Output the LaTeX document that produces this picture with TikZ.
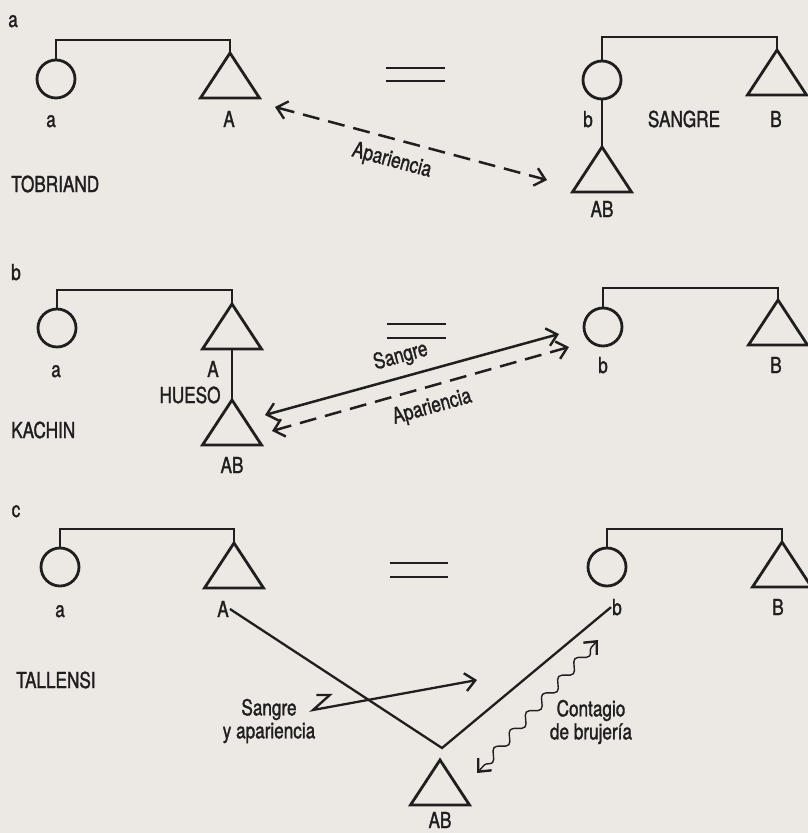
\documentclass[tikz,border=0pt]{standalone}
\usepackage{fontspec}
\setmainfont{TeX Gyre Heros}[FakeStretch=0.78, FakeBold=1.4]
\usepackage{xcolor}
\usepackage{tikz}
\usetikzlibrary{positioning,shapes.geometric,arrows.meta,decorations.pathmorphing}

\definecolor{paper}{RGB}{236,233,229}
\definecolor{ink}{RGB}{32,30,30}

\begin{document}
\begin{tikzpicture}[
            x=1pt, y=-1pt,
            font=\fontsize{22}{23}\selectfont,
            every node/.style={text=ink},
            >={Straight Barb[length=10pt,width=18pt,line width=2.4pt]},
            circ/.style={circle, draw=ink, line width=2.8pt, minimum size=38pt, inner sep=0pt, outer sep=0pt},
            tri/.style={isosceles triangle, isosceles triangle stretches, shape border rotate=90,
                draw=ink, line width=2.8pt, minimum width=59pt, minimum height=45pt,
                inner sep=0pt, outer sep=0pt, anchor=apex},
            lbl/.style={anchor=base, inner sep=1pt},
            kin/.style={draw=ink, line width=2.6pt},
            eqbar/.style={draw=ink, line width=2.8pt},
            rel/.style={draw=ink, line width=2.5pt, <->},
            auto
        ]
            \fill[paper] (0,0) rectangle (808,833);
            \useasboundingbox (0,0) rectangle (808,833);

            % a: Tobriand
            \node[lbl] (ha) at (13,27) {a};
            \node[circ] (ca1) at (56,79) {};
            \node[tri] (ta1) at (230,53) {};
            \node[lbl] (la1) at (51,127) {a};
            \node[lbl] (lA1) at (229,127) {A};
            \node[lbl, anchor=base west] (na) at (10,192) {TOBRIAND};
            \draw[kin] (ca1.north) -- ++(0,-20) -| (ta1.apex);
            \node[circ] (cb1) at (602,80) {};
            \node[tri] (tB1) at (777,50) {};
            \node[tri] (tAB1) at (602,147) {};
            \node[lbl] (lb1) at (588,127) {b};
            \node[lbl] (ls1) at (684,127) {SANGRE};
            \node[lbl] (lB1) at (776,127) {B};
            \node[lbl] (lAB1) at (602,217) {AB};
            \draw[kin] (cb1.north) -- ++(0,-24) -| (tB1.apex);
            \draw[kin] (cb1.south) -- (tAB1.apex);
            \draw[eqbar] (386,68) -- (445,68) (386,81) -- (445,81);
            \coordinate (p1a) at (275,107);
            \coordinate (p1b) at (547,180);
            \draw[rel, dashed, dash pattern=on 17pt off 9pt] (p1a) -- node[pos=0.45, sloped, below=7pt] (ap1) {Apariencia} (p1b);

            % b: Kachin
            \node[lbl] (hb) at (16,280) {b};
            \node[circ] (ca2) at (57,328) {};
            \node[tri] (ta2) at (232,304) {};
            \node[tri] (tAB2) at (232,400) {};
            \node[lbl] (la2) at (56,377) {a};
            \node[lbl] (lA2) at (213,377) {A};
            \node[lbl] (lh2) at (190,403) {HUESO};
            \node[lbl] (lAB2) at (232,473) {AB};
            \node[lbl, anchor=base west] (nb) at (10,438) {KACHIN};
            \draw[kin] (ca2.north) -- ++(0,-19) -| (ta2.apex);
            \draw[kin] (ta2.lower side) -- (tAB2.apex);
            \node[circ] (cb2) at (603,327) {};
            \node[tri] (tB2) at (778,300) {};
            \node[lbl] (lb2) at (603,373) {b};
            \node[lbl] (lB2) at (776,373) {B};
            \draw[kin] (cb2.north) -- ++(0,-20) -| (tB2.apex);
            \draw[eqbar] (387,324) -- (446,324) (387,338) -- (446,338);
            \coordinate (s2a) at (265,415);
            \coordinate (s2b) at (559,334);
            \coordinate (p2a) at (272,431);
            \coordinate (p2b) at (569,347);
            \draw[rel] (s2a) -- node[pos=0.48, sloped, above=5pt] (sg2) {Sangre} (s2b);
            \draw[rel, dashed, dash pattern=on 17pt off 9pt] (p2a) -- node[pos=0.52, sloped, below=6pt] (ap2) {Apariencia} (p2b);

            % c: Tallensi
            \node[lbl] (hc) at (16,517) {c};
            \node[circ] (ca3) at (60,567) {};
            \node[tri] (ta3) at (234,543) {};
            \node[lbl] (la3) at (60,617) {a};
            \node[lbl] (lA3) at (223,617) {A};
            \node[lbl, anchor=base west] (nc) at (15,688) {TALLENSI};
            \draw[kin] (ca3.north) -- ++(0,-19) -| (ta3.apex);
            \node[circ] (cb3) at (607,567) {};
            \node[tri] (tB3) at (782,542) {};
            \node[lbl] (lb3) at (617,615) {b};
            \node[lbl] (lB3) at (778,615) {B};
            \draw[kin] (cb3.north) -- ++(0,-19) -| (tB3.apex);
            \node[tri] (tAB3) at (440,760) {};
            \node[lbl] (lAB3) at (440,828) {AB};
            \draw[eqbar] (390,563) -- (448,563) (390,577) -- (448,577);
            \coordinate (v3) at (442,748);
            \draw[kin, line width=2.3pt] (lA3.east) -- (v3) -- (lb3.west);
            \node[align=center] (sy3) at (269,721) {Sangre\\y apariencia};
            \coordinate (h3) at (332,693);
            \coordinate (k3) at (313,710);
            \coordinate (r3) at (477,680);
            \draw[kin, line width=2.3pt, {Straight Barb[harpoon,length=10pt,width=18pt]}-{>}] (h3) -- (k3) -- (r3);
            \node[align=center] (cg3) at (591,722) {Contagio\\de brujería};
            \coordinate (w3a) at (598,640);
            \coordinate (w3b) at (477,773);
            \draw[draw=ink, line width=1.4pt, <->, decorate,
                decoration={snake, amplitude=4.5pt, segment length=24pt, pre length=10pt, post length=10pt}] (w3a) -- (w3b);
        \end{tikzpicture}
\end{document}
